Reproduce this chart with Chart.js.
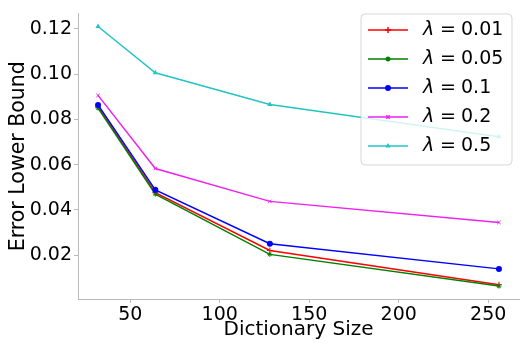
<!DOCTYPE html>
<html>
<head>
<meta charset="utf-8">
<script src="https://cdn.jsdelivr.net/npm/chart.js@4/dist/chart.umd.min.js"></script>
<style>
  html, body { margin: 0; padding: 0; background: #fff; overflow: hidden; }
  #wrap { position: relative; width: 524px; height: 343px; }
</style>
</head>
<body>
<div id="wrap"><canvas id="chart"></canvas></div>
<script>
const sizes = [32, 64, 128, 256];
const lambdas = ['0.01', '0.05', '0.1', '0.2', '0.5'];
const err001 = [0.0855, 0.0477, 0.0221, 0.0070];
const err005 = [0.0850, 0.0470, 0.0204, 0.0064];
const err01 = [0.0864, 0.0489, 0.0251, 0.0140];
const err02 = [0.0906, 0.0583, 0.0438, 0.0345];
const err05 = [0.1210, 0.1006, 0.0866, 0.0723];
const xTicks = [50, 100, 150, 200, 250];
const yTicks = [0.02, 0.04, 0.06, 0.08, 0.10, 0.12];

const seriesValues = [err001, err005, err01, err02, err05];
const colors = ['#ff0000', '#008000', '#0000ff', '#ee22ee', '#22c4c4'];
const markers = ['cross', 'star', 'circle', 'crossRot', 'triangle'];
const radii = [3, 2.5, 3, 2.5, 3];
const FONT = "'DejaVu Sans', sans-serif";

const datasets = seriesValues.map((vals, i) => ({
    label: 'λ = ' + lambdas[i],
    data: sizes.map((s, j) => ({ x: s, y: vals[j] })),
    borderColor: colors[i],
    backgroundColor: colors[i],
    borderWidth: 1.5,
    pointStyle: markers[i],
    pointRadius: radii[i],
    pointBorderWidth: i === 2 || i === 4 ? 0 : 1,
    tension: 0,
    order: 5 - i
}));

// legend drawn inside the axes, like matplotlib's upper right box
const boxLegend = {
    id: 'boxLegend',
    afterDatasetsDraw(chart) {
        const ctx = chart.ctx;
        const x0 = 361, y0 = 14, w = 151, h = 151, r = 4;
        ctx.save();
        ctx.beginPath();
        ctx.moveTo(x0 + r, y0);
        ctx.arcTo(x0 + w, y0, x0 + w, y0 + h, r);
        ctx.arcTo(x0 + w, y0 + h, x0, y0 + h, r);
        ctx.arcTo(x0, y0 + h, x0, y0, r);
        ctx.arcTo(x0, y0, x0 + w, y0, r);
        ctx.closePath();
        ctx.fillStyle = 'rgba(255,255,255,0.8)';
        ctx.fill();
        ctx.strokeStyle = 'rgba(204,204,204,0.8)';
        ctx.lineWidth = 1;
        ctx.stroke();

        datasets.forEach((ds, i) => {
            const cy = 30 + i * 29;
            ctx.strokeStyle = ds.borderColor;
            ctx.lineWidth = 1.5;
            ctx.beginPath();
            ctx.moveTo(368, cy);
            ctx.lineTo(408, cy);
            ctx.stroke();
            ctx.fillStyle = ds.backgroundColor;
            Chart.helpers.drawPoint(ctx, {
                pointStyle: ds.pointStyle,
                radius: ds.pointRadius,
                borderWidth: ds.pointBorderWidth,
                rotation: 0
            }, 388, cy);
            ctx.fillStyle = '#000';
            ctx.textBaseline = 'middle';
            ctx.font = "italic 19px " + FONT;
            ctx.fillText('λ', 423, cy);
            ctx.font = "19px " + FONT;
            ctx.fillText('=', 440, cy);
            ctx.fillText(lambdas[i], 461, cy);
        });
        ctx.restore();
    }
};

new Chart(document.getElementById('chart'), {
    type: 'line',
    data: { datasets },
    options: {
        responsive: true,
        maintainAspectRatio: false,
        animation: false,
        layout: { padding: { top: 4, right: 0, left: 0, bottom: 0 } },
        plugins: {
            legend: { display: false },
            tooltip: { enabled: false }
        },
        scales: {
            x: {
                type: 'linear',
                min: 20.8,
                max: 267.2,
                afterBuildTicks: s => { s.ticks = xTicks.map(v => ({ value: v })); },
                afterFit: s => { s.height = 44; },
                grid: { drawOnChartArea: false, drawTicks: true, tickLength: 4, color: '#bbbbbb' },
                border: { color: '#bbbbbb', width: 1 },
                ticks: { color: '#000', font: { family: FONT, size: 19 }, padding: 1, maxRotation: 0 },
                title: { display: true, text: 'Dictionary Size', color: '#000', font: { family: FONT, size: 20 }, padding: { top: 0, bottom: 1 } }
            },
            y: {
                min: 0.0007,
                max: 0.1268,
                afterBuildTicks: s => { s.ticks = yTicks.map(v => ({ value: v })); },
                afterFit: s => { s.width = 78; },
                grid: { drawOnChartArea: false, drawTicks: true, tickLength: 4, color: '#bbbbbb' },
                border: { color: '#bbbbbb', width: 1 },
                ticks: { color: '#000', font: { family: FONT, size: 19 }, padding: 2, callback: v => v.toFixed(2) },
                title: { display: true, text: 'Error Lower Bound', color: '#000', font: { family: FONT, size: 20.5 }, padding: { top: 6, bottom: 0 } }
            }
        }
    },
    plugins: [boxLegend]
});
</script>
</body>
</html>
